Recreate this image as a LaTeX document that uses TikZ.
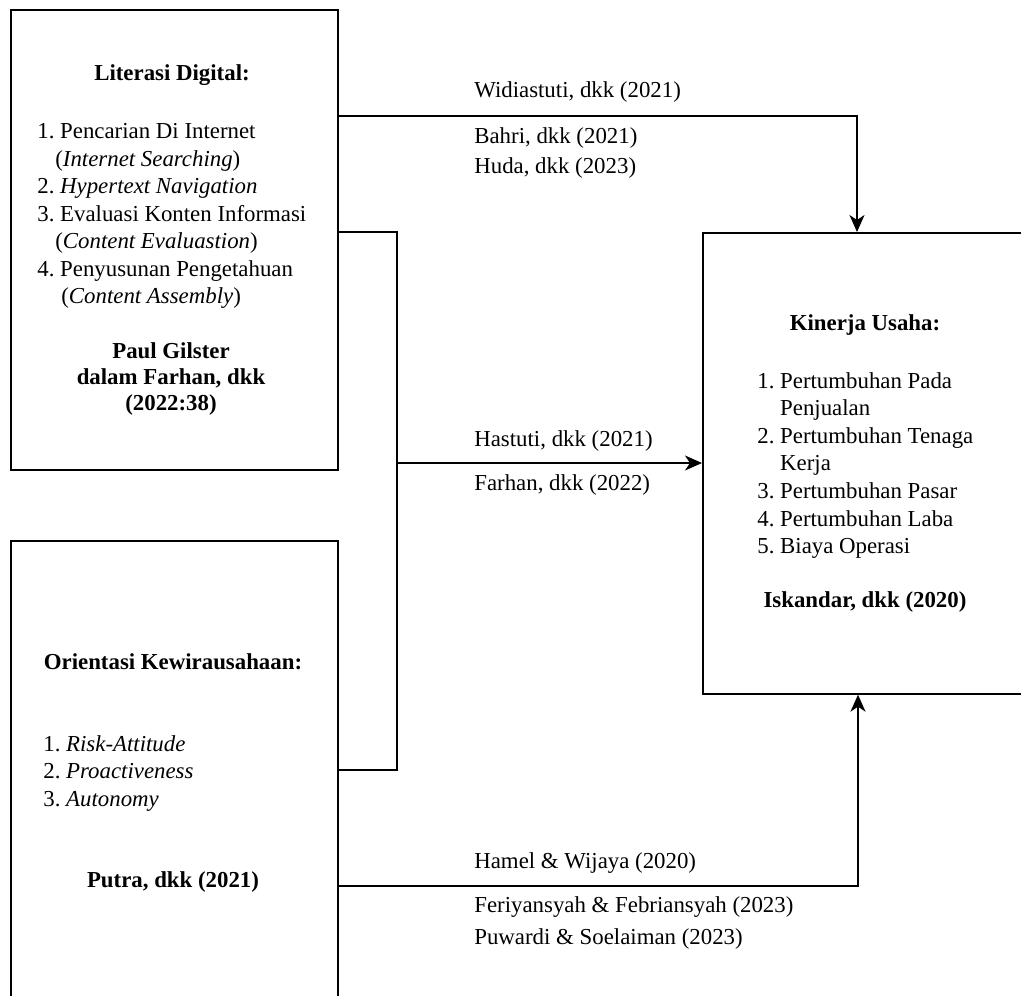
\documentclass[tikz,border=0pt]{standalone}
\usepackage{fontspec}
\setmainfont{Liberation Serif}
\usepackage{tikz}
\usetikzlibrary{arrows.meta, calc}
\frenchspacing

\begin{document}
\begin{tikzpicture}[x=0.02cm, y=-0.02cm, >={Stealth[length=3.4mm, width=3mm, inset=1mm]},
    every node/.style={font=\fontsize{13}{15.7}\selectfont},
    varbox/.style={draw, line width=1pt, anchor=north west, inner sep=0pt},
    title/.style={font=\fontsize{13}{15.7}\selectfont\bfseries},
    items/.style={anchor=north west, inner sep=0pt, align=left},
    source/.style={font=\fontsize{13}{14.6}\selectfont\bfseries, align=center},
    cite/.style={anchor=west, inner sep=0pt},
    link/.style={line width=1pt}]
        \useasboundingbox (0,0) rectangle (1021,996);
        \clip (0,0) rectangle (1021,996);

        % Variables
        \node (lit) [varbox, minimum width=6.54cm, minimum height=9.2cm] at (10,9) {};
        \node (ori) [varbox, minimum width=6.54cm, minimum height=10cm] at (10,540) {};
        \node (kin) [varbox, minimum width=7.2cm, minimum height=9.22cm] at (702,232) {};

        % Literasi Digital
        \node (litTitle) [title] at (172,75) {Literasi Digital:};
        \node (litItems) [items] at (37,123) {1. Pencarian Di Internet\\\hspace*{0.36cm}(\textit{Internet Searching})\\2. \textit{Hypertext Navigation}\\3. Evaluasi Konten Informasi\\\hspace*{0.36cm}(\textit{Content Evaluastion})\\4. Penyusunan Pengetahuan\\\hspace*{0.48cm}(\textit{Content Assembly})};
        \node (litSource) [source] at (171,379) {Paul Gilster\\dalam Farhan, dkk\\(2022:38)};

        % Orientasi Kewirausahaan
        \node (oriTitle) [title] at (173,662) {Orientasi Kewirausahaan:};
        \node (oriItems) [items] at (43,735) {1. \textit{Risk-Attitude}\\2. \textit{Proactiveness}\\3. \textit{Autonomy}};
        \node (oriSource) [source] at (173,882) {Putra, dkk (2021)};

        % Kinerja Usaha
        \node (kinTitle) [title] at (865,325) {Kinerja Usaha:};
        \node (kinItems) [items] at (757,372) {1. Pertumbuhan Pada\\\hspace*{1em}Penjualan\\2. Pertumbuhan Tenaga\\\hspace*{1em}Kerja\\3. Pertumbuhan Pasar\\4. Pertumbuhan Laba\\5. Biaya Operasi};
        \node (kinSource) [source] at (865,602) {Iskandar, dkk (2020)};

        % Relations
        \draw [link, ->] (lit.east |- 0,116) -| (857,0 |- kin.north);

        \coordinate (junc) at (397,463);
        \draw [link] (lit.east |- 0,232) -| (junc) |- (ori.east |- 0,770);
        \draw [link, ->] (junc) -- (kin.west |- junc);

        \draw [link, ->] (ori.east |- 0,886) -| (858,0 |- kin.south);

        % Citations
        \node (c1) [cite] at (474,92) {Widiastuti, dkk (2021)};
        \node (c2) [cite] at (474,138) {Bahri, dkk (2021)};
        \node (c3) [cite] at (474,168) {Huda, dkk (2023)};
        \node (c4) [cite] at (474,441) {Hastuti, dkk (2021)};
        \node (c5) [cite] at (474,485) {Farhan, dkk (2022)};
        \node (c6) [cite] at (474,863) {Hamel \& Wijaya (2020)};
        \node (c7) [cite] at (474,907) {Feriyansyah \& Febriansyah (2023)};
        \node (c8) [cite] at (474,939) {Puwardi \& Soelaiman (2023)};
    \end{tikzpicture}
\end{document}
